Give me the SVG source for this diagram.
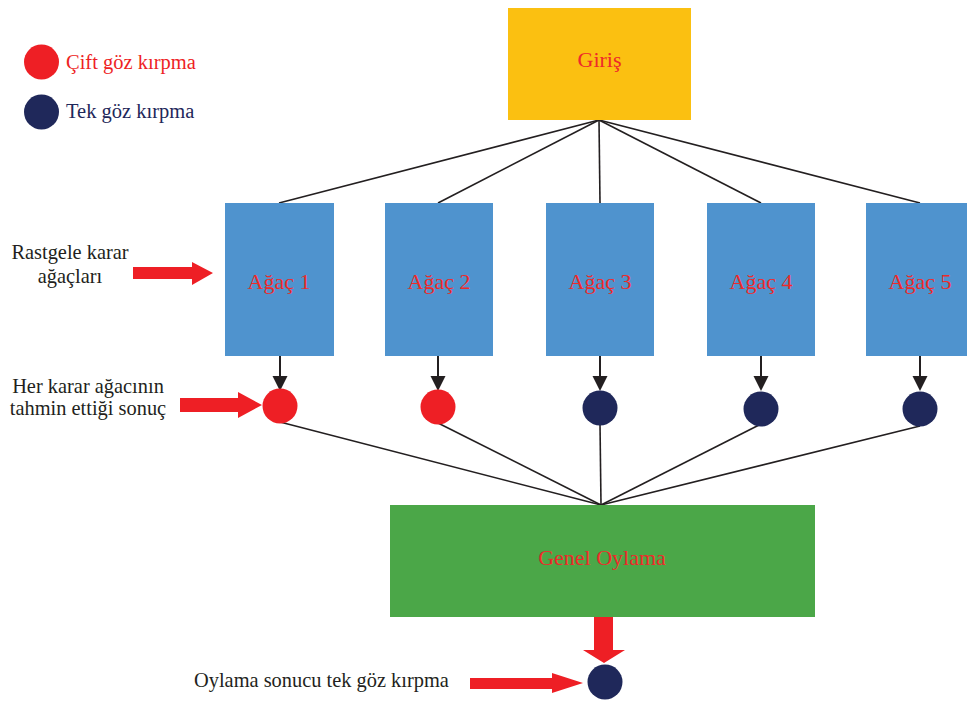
<svg xmlns="http://www.w3.org/2000/svg" width="967" height="702" viewBox="0 0 967 702" font-family="'Liberation Serif', 'Times New Roman', serif">
<style>
text{font-family:"Liberation Serif","Times New Roman",serif}
.lbl{font-size:22px;fill:#EE2A2A;text-anchor:middle}
.side{font-size:20.4px;fill:#231F20;text-anchor:middle}
.tree{fill:#4F93CE}
.conn{stroke:#231F20;stroke-width:1.6;fill:none}
.down{stroke:#231F20;stroke-width:2;fill:none}
.red{fill:#EE1F25}
.navy{fill:#1F285A}
.big{fill:#EE1F25}
</style>
<rect width="967" height="702" fill="#fff"/>

<g id="connectors">
<line class="conn" x1="599" y1="120" x2="279" y2="203"/>
<line class="conn" x1="599" y1="120" x2="438" y2="203"/>
<line class="conn" x1="599" y1="120" x2="600" y2="203"/>
<line class="conn" x1="599" y1="120" x2="761" y2="203"/>
<line class="conn" x1="599" y1="120" x2="920" y2="203"/>
<path class="down" d="M280,356 V376"/><path d="M272.5,376 L287.5,376 L280,391 z" fill="#231F20"/>
<path class="down" d="M438,356 V376"/><path d="M430.5,376 L445.5,376 L438,391 z" fill="#231F20"/>
<path class="down" d="M600,356 V376"/><path d="M592.5,376 L607.5,376 L600,391 z" fill="#231F20"/>
<path class="down" d="M761,356 V376"/><path d="M753.5,376 L768.5,376 L761,391 z" fill="#231F20"/>
<path class="down" d="M920,356 V376"/><path d="M912.5,376 L927.5,376 L920,391 z" fill="#231F20"/>
<line class="conn" x1="280" y1="422" x2="601" y2="505"/>
<line class="conn" x1="438" y1="423" x2="601" y2="505"/>
<line class="conn" x1="600" y1="424" x2="601" y2="505"/>
<line class="conn" x1="761" y1="424" x2="601" y2="505"/>
<line class="conn" x1="920" y1="426" x2="601" y2="505"/>
<path class="big" d="M594,617 H613 V650 H625 L604,663 L583,650 H594 z"/>
<path class="big" d="M133,267 H192 V262 L213,273 L192,285 V279 H133 z"/>
<path class="big" d="M180,398 H238 V392 L262,405 L238,418 V412 H180 z"/>
<path class="big" d="M470,678 H552 V673 L583,683 L552,693 V689 H470 z"/>
</g>

<g id="legend">
<circle cx="41.5" cy="62" r="17.5" class="red"/>
<text x="66" y="69" font-size="20.5" fill="#EE1F25">Çift göz kırpma</text>
<circle cx="41.5" cy="112" r="17.5" class="navy"/>
<text x="66" y="118" font-size="20.5" fill="#1F285A">Tek göz kırpma</text>
</g>

<g id="giris">
<rect x="508" y="8" width="183" height="112" fill="#FBC011"/>
<text class="lbl" x="599.5" y="67">Giriş</text>
</g>

<g id="agac1"><rect class="tree" x="225" y="203" width="109" height="153"/><text class="lbl" x="279" y="289">Ağaç 1</text></g>
<g id="agac2"><rect class="tree" x="385" y="203" width="108" height="153"/><text class="lbl" x="439" y="289">Ağaç 2</text></g>
<g id="agac3"><rect class="tree" x="546" y="203" width="108" height="153"/><text class="lbl" x="600" y="289">Ağaç 3</text></g>
<g id="agac4"><rect class="tree" x="707" y="203" width="108" height="153"/><text class="lbl" x="761" y="289">Ağaç 4</text></g>
<g id="agac5"><rect class="tree" x="866" y="203" width="108" height="153"/><text class="lbl" x="920" y="289">Ağaç 5</text></g>

<g id="sonuc1"><circle cx="280" cy="406" r="17.5" class="red"/></g>
<g id="sonuc2"><circle cx="438" cy="407" r="17.5" class="red"/></g>
<g id="sonuc3"><circle cx="600" cy="408" r="17.5" class="navy"/></g>
<g id="sonuc4"><circle cx="761" cy="409" r="17.5" class="navy"/></g>
<g id="sonuc5"><circle cx="920" cy="409" r="17.5" class="navy"/></g>

<g id="genel">
<rect x="390" y="505" width="425" height="112" fill="#4BA748"/>
<text class="lbl" x="602" y="565">Genel Oylama</text>
</g>

<g id="final"><circle cx="605" cy="682" r="17.5" class="navy"/></g>

<g id="labels">
<text class="side" x="70" y="259">Rastgele karar</text>
<text class="side" x="70" y="283">ağaçları</text>
<text class="side" x="88" y="393">Her karar ağacının</text>
<text class="side" x="88" y="415">tahmin ettiği sonuç</text>
<text class="side" x="194" y="687" style="text-anchor:start">Oylama sonucu tek göz kırpma</text>
</g>
</svg>
